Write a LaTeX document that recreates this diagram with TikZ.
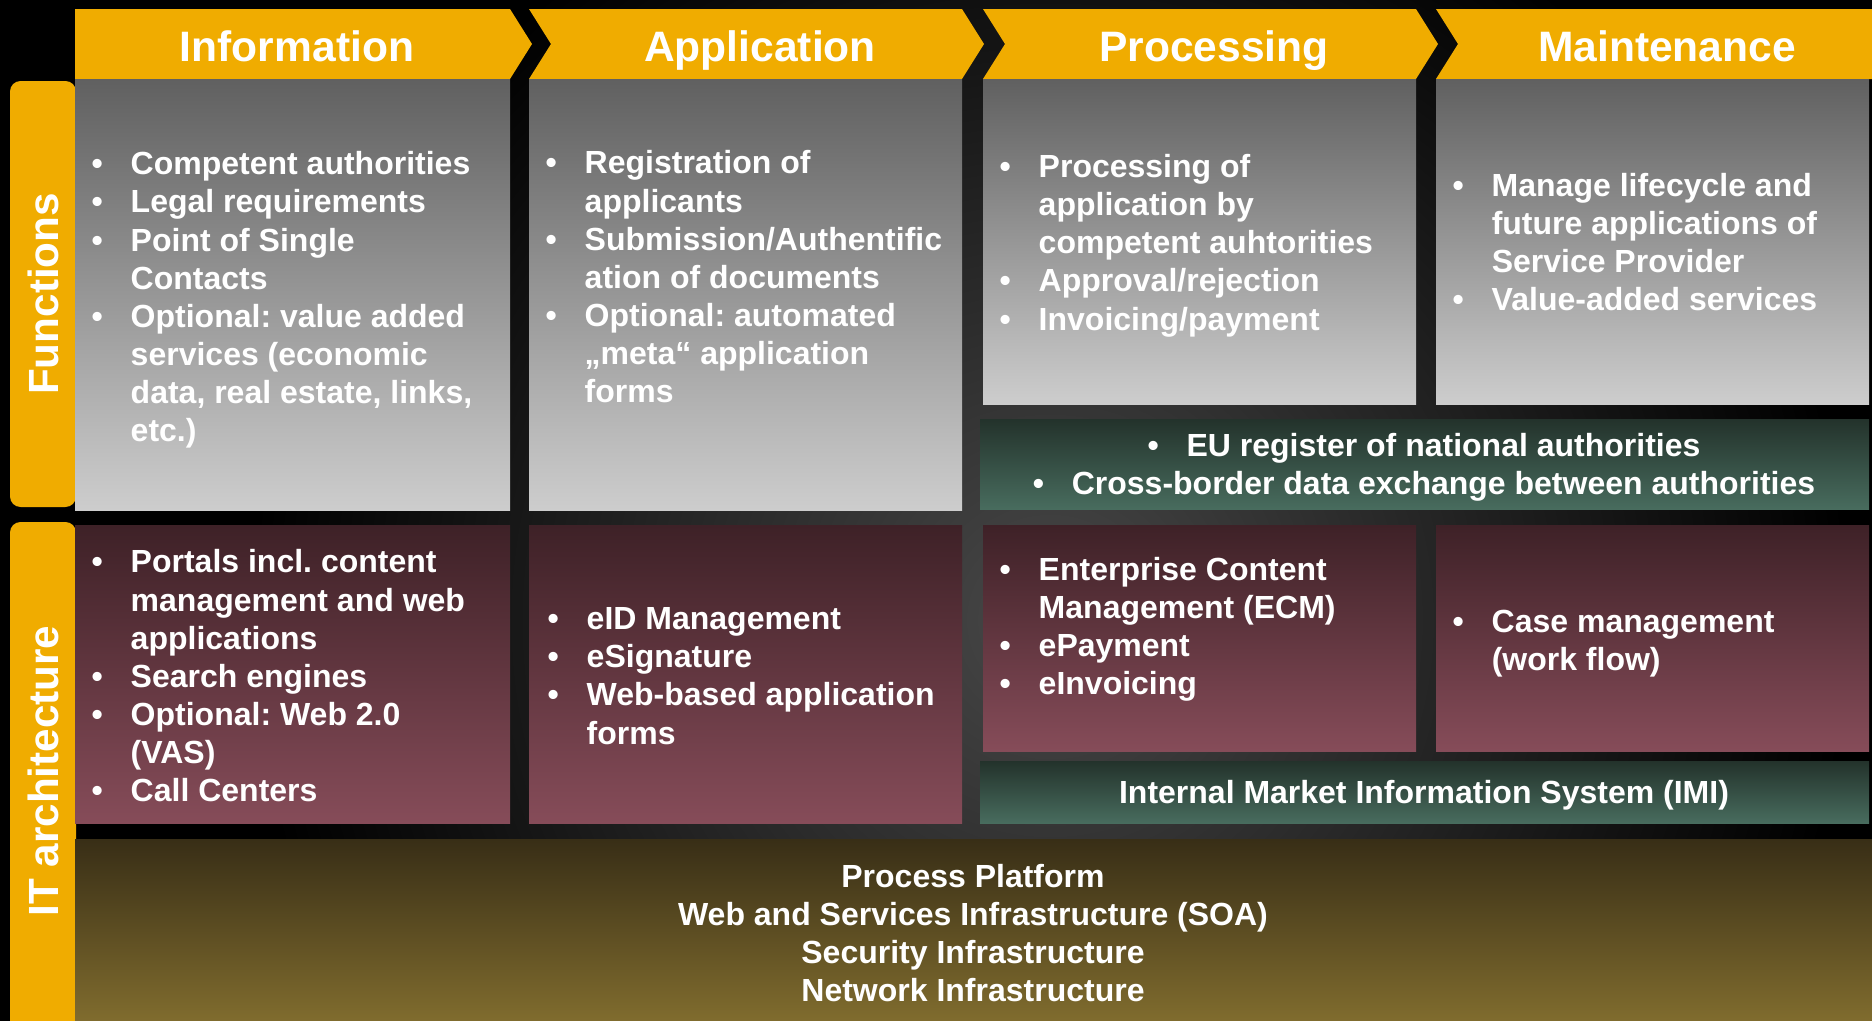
\documentclass[tikz,border=0pt]{standalone}
\usepackage{fontspec}
\setmainfont{Liberation Sans}
\usetikzlibrary{fit}
\definecolor{hdrorange}{RGB}{240,172,0}
\definecolor{fgtop}{RGB}{96,96,96}
\definecolor{fgbot}{RGB}{205,205,205}
\definecolor{ittop}{RGB}{62,33,39}
\definecolor{itbot}{RGB}{134,76,89}
\definecolor{eutop}{RGB}{35,50,43}
\definecolor{eubot}{RGB}{72,108,94}
\definecolor{bstop}{RGB}{56,46,22}
\definecolor{bsbot}{RGB}{128,108,46}
\definecolor{bggray}{RGB}{72,72,72}
\newcommand{\itm}{\makebox[11.1pt][l]{\textbullet}}
\newcommand{\ind}{\hspace*{11.1pt}}
\frenchspacing

\begin{document}
\begin{tikzpicture}[x=0.01cm,y=-0.01cm,
                box/.style={inner sep=0pt,outer sep=0pt},
                funcbox/.style={box,top color=fgtop,bottom color=fgbot},
                itbox/.style={box,top color=ittop,bottom color=itbot},
                eubox/.style={box,top color=eutop,bottom color=eubot},
                platbox/.style={box,top color=bstop,bottom color=bsbot},
                hdr/.style={fill=hdrorange},
                hdrtext/.style={text=white,text height=0.73em,text depth=0.21em,font=\fontsize{12.1}{14}\selectfont\bfseries},
                side/.style={box,fill=hdrorange,rounded corners=3pt},
                sidetext/.style={text=white,rotate=90,font=\fontsize{12}{14}\selectfont\bfseries},
                itemtext/.style={text=white,align=left,anchor=west,inner sep=0pt,font=\fontsize{9.1}{10.85}\selectfont\bfseries},
                ctrtext/.style={text=white,align=center,inner sep=0pt,font=\fontsize{9.1}{10.85}\selectfont\bfseries}]
                \useasboundingbox (0,0) rectangle (1872,1021);
                \fill[black] (0,0) rectangle (1872,1021);
                \begin{scope}
                    \clip (0,0) rectangle (1872,1021);
                    \shade[inner color=bggray,outer color=black] (1050,620) circle (800);
                \end{scope}

                \fill[hdr] (75,9) -- (510,9) -- (532,44) -- (510,79) -- (75,79) -- cycle;
                \fill[hdr] (529,9) -- (962,9) -- (984,44) -- (962,79) -- (529,79) -- (551,44) -- cycle;
                \fill[hdr] (983,9) -- (1416,9) -- (1438,44) -- (1416,79) -- (983,79) -- (1005,44) -- cycle;
                \fill[hdr] (1436,9) -- (1872,9) -- (1872,79) -- (1436,79) -- (1458,44) -- cycle;
                \node[hdrtext] (hInfo) at (297,52) {Information};
                \node[hdrtext] (hApp) at (760,52) {Application};
                \node[hdrtext] (hProc) at (1214,52) {Processing};
                \node[hdrtext] (hMaint) at (1667,52) {Maintenance};

                \node[side,fit={(10,81)(76,507)}] (funcs) {};
                \node[sidetext] (funcsLabel) at (funcs.center) {Functions};
                \node[side,fit={(10,522)(76,1050)}] (itarch) {};
                \node[sidetext] (itarchLabel) at (43,771) {IT architecture};

                \node[funcbox,fit={(75,79)(510,510)}] (fInfo) {};
                \node[funcbox,fit={(529,79)(962,510)}] (fApp) {};
                \node[funcbox,fit={(983,79)(1416,404)}] (fProc) {};
                \node[funcbox,fit={(1436,79)(1869,404)}] (fMaint) {};
                \node[eubox,fit={(980,419)(1869,509)}] (euBand) {};
                \node[itbox,fit={(75,525)(510,823)}] (iInfo) {};
                \node[itbox,fit={(529,525)(962,823)}] (iApp) {};
                \node[itbox,fit={(983,525)(1416,751)}] (iProc) {};
                \node[itbox,fit={(1436,525)(1869,751)}] (iMaint) {};
                \node[eubox,fit={(980,761)(1869,823)}] (imiBand) {};
                \node[platbox,fit={(75,839)(1872,1021)}] (platform) {};

                \node[itemtext] (tfInfo) at (91,300) {\itm Competent authorities\\\itm Legal requirements\\\itm Point of Single\\\ind Contacts\\\itm Optional: value added\\\ind services (economic\\\ind data, real estate, links,\\\ind etc.)};
                \node[itemtext] (tfApp) at (545,277) {\itm Registration of\\\ind applicants\\\itm Submission/Authentific\\\ind ation of documents\\\itm Optional: automated\\\ind „meta“ application\\\ind forms};
                \node[itemtext] (tfProc) at (999,245.5) {\itm Processing of\\\ind application by\\\ind competent auhtorities\\\itm Approval/rejection\\\itm Invoicing/payment};
                \node[itemtext] (tfMaint) at (1452,242) {\itm Manage lifecycle and\\\ind future applications of\\\ind Service Provider\\\itm Value-added services};
                \node[ctrtext] (tEu) at (1424,467.5) {\itm EU register of national authorities\\\itm Cross-border data exchange between authorities};

                \node[itemtext] (tiInfo) at (91,676) {\itm Portals incl. content\\\ind management and web\\\ind applications\\\itm Search engines\\\itm Optional: Web 2.0\\\ind (VAS)\\\itm Call Centers};
                \node[itemtext] (tiApp) at (547,676) {\itm eID Management\\\itm eSignature\\\itm Web-based application\\\ind forms};
                \node[itemtext] (tiProc) at (999,629.5) {\itm Enterprise Content\\\ind Management (ECM)\\\itm ePayment\\\itm eInvoicing};
                \node[itemtext] (tiMaint) at (1452,643.5) {\itm Case management\\\ind (work flow)};
                \node[ctrtext] (tImi) at (1424,795.5) {Internal Market Information System (IMI)};
                \node[ctrtext] (tPlat) at (973,933) {Process Platform\\Web and Services Infrastructure (SOA)\\Security Infrastructure\\Network Infrastructure};
            \end{tikzpicture}
\end{document}
